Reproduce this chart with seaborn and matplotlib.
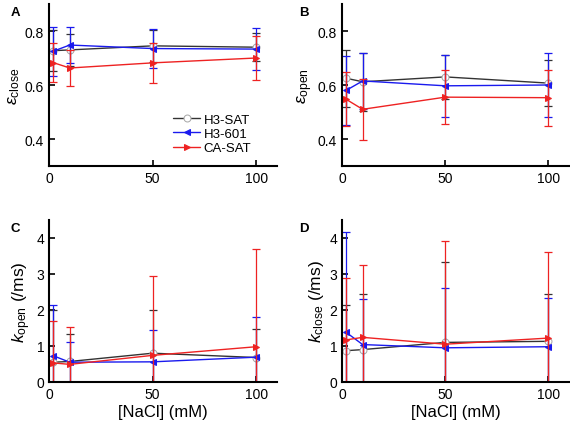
import numpy as np
import pandas as pd
import seaborn as sns
import matplotlib
matplotlib.use("Agg")
import matplotlib.pyplot as plt

# NaCl concentrations (mM)
nacl = [2, 10, 50, 100]
series = ["H3-SAT", "H3-601", "CA-SAT"]

# panel A: eps_close
eps_close = {
    "H3-SAT": [0.727, 0.730, 0.745, 0.740],
    "H3-601": [0.725, 0.748, 0.735, 0.733],
    "CA-SAT": [0.683, 0.663, 0.682, 0.700],
}
eps_close_sd = {
    "H3-SAT": [0.075, 0.060, 0.060, 0.052],
    "H3-601": [0.090, 0.065, 0.072, 0.077],
    "CA-SAT": [0.072, 0.066, 0.073, 0.080],
}

# panel B: eps_open
eps_open = {
    "H3-SAT": [0.625, 0.612, 0.630, 0.607],
    "H3-601": [0.580, 0.615, 0.597, 0.600],
    "CA-SAT": [0.547, 0.510, 0.555, 0.553],
}
eps_open_sd = {
    "H3-SAT": [0.105, 0.107, 0.080, 0.085],
    "H3-601": [0.128, 0.105, 0.115, 0.117],
    "CA-SAT": [0.100, 0.112, 0.100, 0.103],
}

# panel C: k_open (/ms)
k_open = {
    "H3-SAT": [0.55, 0.57, 0.80, 0.68],
    "H3-601": [0.73, 0.55, 0.56, 0.69],
    "CA-SAT": [0.53, 0.49, 0.74, 0.98],
}
k_open_sd = {
    "H3-SAT": [1.45, 0.76, 1.20, 0.79],
    "H3-601": [1.41, 0.57, 0.88, 1.11],
    "CA-SAT": [1.17, 1.05, 2.21, 2.71],
}

# panel D: k_close (/ms)
k_close = {
    "H3-SAT": [0.87, 0.90, 1.10, 1.13],
    "H3-601": [1.38, 1.04, 0.95, 0.98],
    "CA-SAT": [1.17, 1.24, 1.05, 1.22],
}
k_close_sd = {
    "H3-SAT": [1.28, 1.54, 2.23, 1.32],
    "H3-601": [2.80, 1.26, 1.67, 1.35],
    "CA-SAT": [1.71, 2.01, 2.86, 2.38],
}

colors = {"H3-SAT": "#333333", "H3-601": "#1a1aee", "CA-SAT": "#ee2222"}
markers = {"H3-SAT": "o", "H3-601": "<", "CA-SAT": ">"}

sns.set_style("ticks")
plt.rcParams["font.family"] = ["Liberation Sans", "DejaVu Sans"]
plt.rcParams["mathtext.fontset"] = "custom"
plt.rcParams["mathtext.rm"] = "Liberation Sans"
plt.rcParams["mathtext.it"] = "Liberation Sans:italic"
plt.rcParams["text.color"] = "black"
plt.rcParams["axes.labelcolor"] = "black"
plt.rcParams["xtick.color"] = "black"
plt.rcParams["ytick.color"] = "black"
plt.rcParams["axes.edgecolor"] = "black"

fig = plt.figure(figsize=(5.7, 4.27), dpi=100)
W, H = 570, 427


def add_ax(l, r, b, t):
    return fig.add_axes([l / W, 1 - b / H, (r - l) / W, (b - t) / H])


panels = [
    (add_ax(49, 277, 167, 5), eps_close, eps_close_sd, (0.3, 0.9), [0.4, 0.6, 0.8],
     r"$\varepsilon_{\mathrm{close}}$", "A"),
    (add_ax(342, 569, 167, 5), eps_open, eps_open_sd, (0.3, 0.9), [0.4, 0.6, 0.8],
     r"$\varepsilon_{\mathrm{open}}$", "B"),
    (add_ax(49, 277, 383, 221), k_open, k_open_sd, (0, 4.5), [0, 1, 2, 3, 4],
     r"$k_{\mathrm{open}}$ (/ms)", "C"),
    (add_ax(342, 569, 383, 221), k_close, k_close_sd, (0, 4.5), [0, 1, 2, 3, 4],
     r"$k_{\mathrm{close}}$ (/ms)", "D"),
]

for i, (ax, vals, sds, ylim, yt, ylab, letter) in enumerate(panels):
    for s in series:
        df = pd.DataFrame({"nacl": nacl, "val": vals[s]})
        mfc = "white" if s == "H3-SAT" else colors[s]
        sns.lineplot(data=df, x="nacl", y="val", ax=ax, color=colors[s],
                     marker=markers[s], markersize=5, markerfacecolor=mfc,
                     markeredgecolor=colors[s] if s != "H3-SAT" else "#aaaaaa",
                     linewidth=1.0, label=s, legend=False)
        ax.errorbar(nacl, vals[s], yerr=sds[s], fmt="none", ecolor=colors[s],
                    elinewidth=0.9, capsize=3, capthick=0.9)
    ax.set_xlim(0, 110)
    ax.set_ylim(*ylim)
    ax.set_xticks([0, 50, 100])
    ax.set_yticks(yt)
    ax.tick_params(direction="in", length=4, width=1.2, labelsize=10)
    for sp in ["left", "bottom"]:
        ax.spines[sp].set_linewidth(1.5)
    sns.despine(ax=ax)
    ax.set_ylabel(ylab, fontsize=12.5, labelpad=2)
    ax.set_xlabel("[NaCl] (mM)" if i >= 2 else "", fontsize=12, labelpad=2)
    ax.text(-0.17 if i % 2 == 0 else -0.19, 0.985, letter, transform=ax.transAxes,
            fontsize=9.5, fontweight="bold", va="top")

leg = panels[0][0].legend(loc="lower right", bbox_to_anchor=(0.94, 0.0),
                          frameon=False, fontsize=9.5, handlelength=2.0,
                          handletextpad=0.3, labelspacing=0.15)

fig.savefig("out.png", dpi=100)
